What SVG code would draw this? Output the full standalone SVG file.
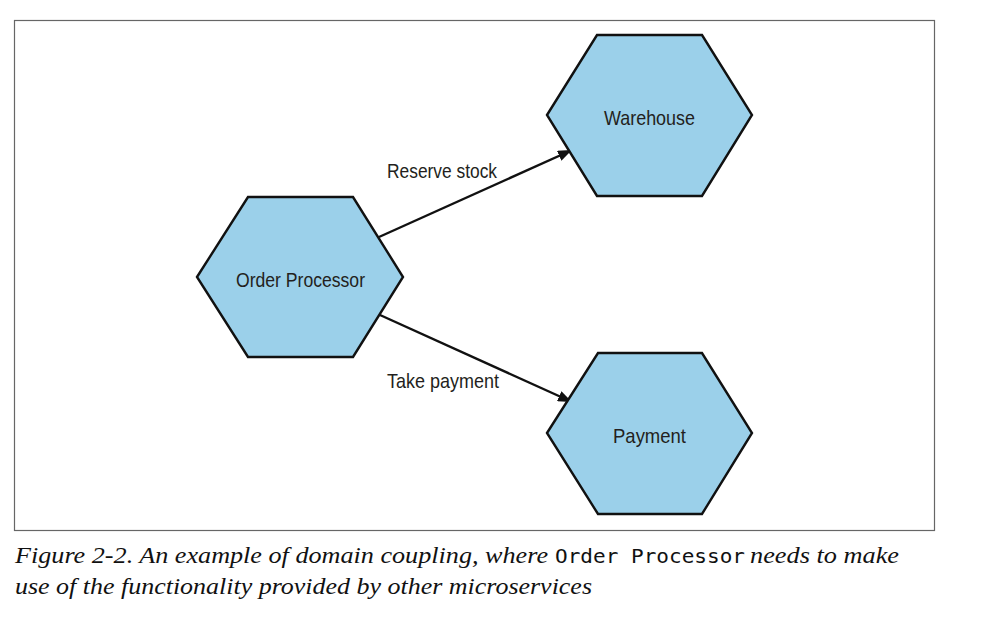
<svg xmlns="http://www.w3.org/2000/svg" width="982" height="619" viewBox="0 0 982 619">
<style>
.hex{fill:#9bd0ea;stroke:#111;stroke-width:2.4;stroke-linejoin:miter}
.lbl{font-family:"Liberation Sans",Arial,sans-serif;font-size:21px;fill:#231f20}
.conn{stroke:#111;stroke-width:2.4;fill:none}
.cap{font-family:"Liberation Serif","Times New Roman",serif;font-style:italic;font-size:24px;fill:#111}
.mono{font-family:"DejaVu Sans Mono","Liberation Mono",monospace;font-style:normal;font-size:20px}
</style>
<defs>
<marker id="arr" viewBox="0 0 14 11" refX="13" refY="5.5" markerWidth="14" markerHeight="11" markerUnits="userSpaceOnUse" orient="auto">
<path d="M0,0 L14,5.5 L0,11 Z" fill="#111"/>
</marker>
</defs>
<rect x="0" y="0" width="982" height="619" fill="#fff"/>
<rect x="14.5" y="20.5" width="920" height="510" fill="none" stroke="#666" stroke-width="1.2"/>
<g id="connectors">
<line class="conn" x1="379" y1="237" x2="571" y2="150.5" marker-end="url(#arr)"/>
<line class="conn" x1="380" y1="315" x2="571" y2="401.5" marker-end="url(#arr)"/>
<text class="lbl" x="387" y="178" textLength="110" lengthAdjust="spacingAndGlyphs">Reserve stock</text>
<text class="lbl" x="387" y="388" textLength="112" lengthAdjust="spacingAndGlyphs">Take payment</text>
</g>
<g id="order-processor">
<polygon class="hex" points="197,277 248,197 353,197 403,277 353,357 248,357"/>
<text class="lbl" x="236" y="287" textLength="129" lengthAdjust="spacingAndGlyphs">Order Processor</text>
</g>
<g id="warehouse">
<polygon class="hex" points="547,115 597,35 702,35 752,115 702,196 597,196"/>
<text class="lbl" x="604" y="125" textLength="91" lengthAdjust="spacingAndGlyphs">Warehouse</text>
</g>
<g id="payment">
<polygon class="hex" points="547,433 598,353 702,353 752,433 702,514 598,514"/>
<text class="lbl" x="613" y="443" textLength="73" lengthAdjust="spacingAndGlyphs">Payment</text>
</g>
<g id="caption">
<text class="cap" x="15" y="563"><tspan textLength="533" lengthAdjust="spacingAndGlyphs">Figure 2-2. An example of domain coupling, where</tspan><tspan class="mono" x="555" textLength="190" lengthAdjust="spacingAndGlyphs">Order  Processor</tspan><tspan x="750" textLength="149" lengthAdjust="spacingAndGlyphs">needs to make</tspan></text>
<text class="cap" x="15" y="594" textLength="577" lengthAdjust="spacingAndGlyphs">use of the functionality provided by other microservices</text>
</g>
</svg>
